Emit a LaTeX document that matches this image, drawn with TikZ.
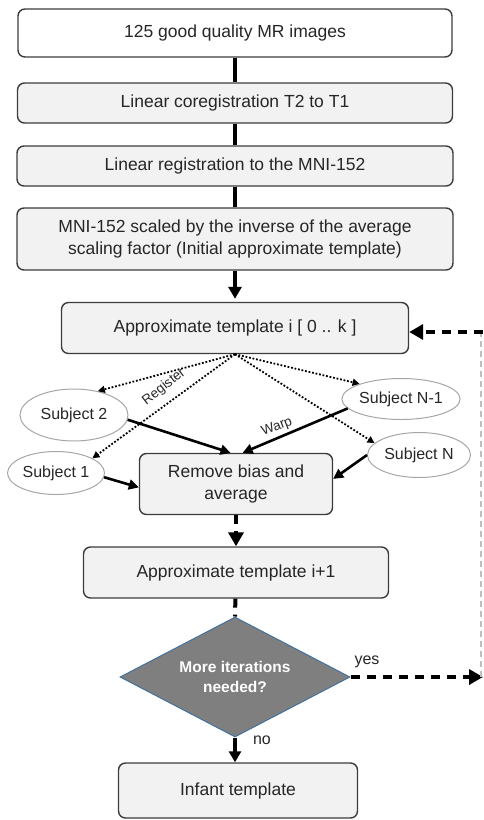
\documentclass[tikz,border=0pt]{standalone}
\usepackage{fontspec}
\setmainfont{Liberation Sans}
\usetikzlibrary{arrows.meta,shapes.geometric}
\definecolor{bordc}{HTML}{3C3C3C}
\definecolor{boxfill}{HTML}{F2F2F2}
\definecolor{txtc}{HTML}{262626}
\definecolor{ellc}{HTML}{A6A6A6}
\definecolor{dmfill}{HTML}{7F7F7F}
\definecolor{dmbord}{HTML}{41719C}
\definecolor{loopc}{HTML}{BFBFBF}
\begin{document}
\begin{tikzpicture}[x=1pt,y=-1pt,
  box/.style={draw=bordc, line width=1.4pt, rounded corners=7pt, fill=boxfill,
    text=txtc, font=\fontsize{17.5}{22}\selectfont, align=center, inner sep=0pt},
  subj/.style={ellipse, draw=ellc, line width=1pt, fill=white, text=txtc,
    font=\fontsize{16}{19}\selectfont, inner sep=0pt},
  lbl/.style={text=txtc, font=\fontsize{16}{19}\selectfont, inner sep=0pt},
  smalllbl/.style={text=txtc, font=\fontsize{13.5}{15}\selectfont, inner sep=0pt},
  thickline/.style={line width=3.6pt, black},
  dotarrow/.style={line width=1.8pt, dash pattern=on 1.8pt off 1.8pt, black,
    -{Triangle[length=7pt,width=7pt]}},
  solidarrow/.style={line width=2.6pt, black, -{Triangle[length=10pt,width=10pt]}},
  dasharrow/.style={line width=4pt, black, dash pattern=on 9pt off 7pt},
  bigtip/.style={-{Triangle[length=14pt,width=15pt]}}
]
\useasboundingbox (0,0) rectangle (483,820);

% boxes
\node[box, fill=white, minimum width=434pt, minimum height=48pt] (b1) at (235,33) {125 good quality MR images};
\node[box, minimum width=435pt, minimum height=40pt] (b2) at (235,103) {Linear coregistration T2 to T1};
\node[box, minimum width=436pt, minimum height=40pt] (b3) at (235,166) {Linear registration to the MNI-152};
\node[box, minimum width=436pt, minimum height=62pt] (b4) at (235,239) {MNI-152 scaled by the inverse of the average\\scaling factor (Initial approximate template)};
\node[box, minimum width=347pt, minimum height=51pt] (tmpl) at (235,328) {Approximate template i [ 0 .. k ]};
\node[box, minimum width=193pt, minimum height=61pt] (rm) at (236,484) {Remove bias and\\average};
\node[box, minimum width=305pt, minimum height=51pt] (ip1) at (236,572.5) {Approximate template i+1};
\node[diamond, draw=dmbord, line width=1pt, fill=dmfill, text=white,
  font=\bfseries\fontsize{15.5}{20}\selectfont, align=center, inner sep=0pt,
  minimum width=230pt, minimum height=120pt, aspect=1.92] (dm) at (235,677) {More iterations\\needed?};
\node[box, minimum width=239pt, minimum height=55pt] (inf) at (238,790.5) {Infant template};

% subjects
\node[subj, minimum width=108pt, minimum height=52pt] (s2) at (74,415) {Subject 2};
\node[subj, minimum width=97pt, minimum height=43pt] (s1) at (56,473) {Subject 1};
\node[subj, minimum width=114pt, minimum height=41pt] (sn1) at (401,399) {Subject N-1};
\node[subj, minimum width=103pt, minimum height=45pt] (sn) at (419,455) {Subject N};

% top chain
\draw[thickline] (b1) -- (b2);
\draw[thickline] (b2) -- (b3);
\draw[thickline] (b3) -- (b4);
\draw[thickline, -{Triangle[length=12pt,width=13pt]}, shorten >=3pt] (b4) -- (tmpl);

% register (dotted)
\draw[dotarrow] (tmpl.south) -- (s2.45);
\draw[dotarrow] (tmpl.south) -- (s1.22);
\draw[dotarrow] (tmpl.south) -- (sn1.160);
\draw[dotarrow] (tmpl.south) -- (sn.165);
\node[smalllbl, rotate=38] (reg) at (164,387) {Register};

% warp (solid)
\draw[solidarrow] (s2.-5) -- (rm.100);
\draw[solidarrow] (sn1.190) -- (rm.78);
\draw[solidarrow] (s1.-5) -- (rm.182);
\draw[solidarrow] (sn.180) -- (rm.3);
\node[smalllbl, rotate=21] (warp) at (277,427) {Warp};

% lower chain
\draw[dasharrow, bigtip] (rm) -- (ip1);
\draw[dasharrow] (ip1) -- (dm.north);
\draw[thickline, -{Triangle[length=11pt,width=12pt]}] (dm.south) -- (inf.north -| dm.south);
\node[lbl] (no) at (262,740) {no};

% feedback loop
\coordinate (fbr) at (483,677);
\coordinate (fbt) at (483,332);
\coordinate (fbrl) at (481,677);
\coordinate (fbtl) at (481,332);
\draw[dasharrow, bigtip] (dm.east) -- (fbr);
\draw[loopc, line width=1.2pt, dash pattern=on 6pt off 4pt] (fbrl) -- (fbtl);
\draw[dasharrow, bigtip] (fbt) -- (tmpl.east |- fbt);
\node[lbl] (yes) at (367,662) {yes};
\end{tikzpicture}
\end{document}
